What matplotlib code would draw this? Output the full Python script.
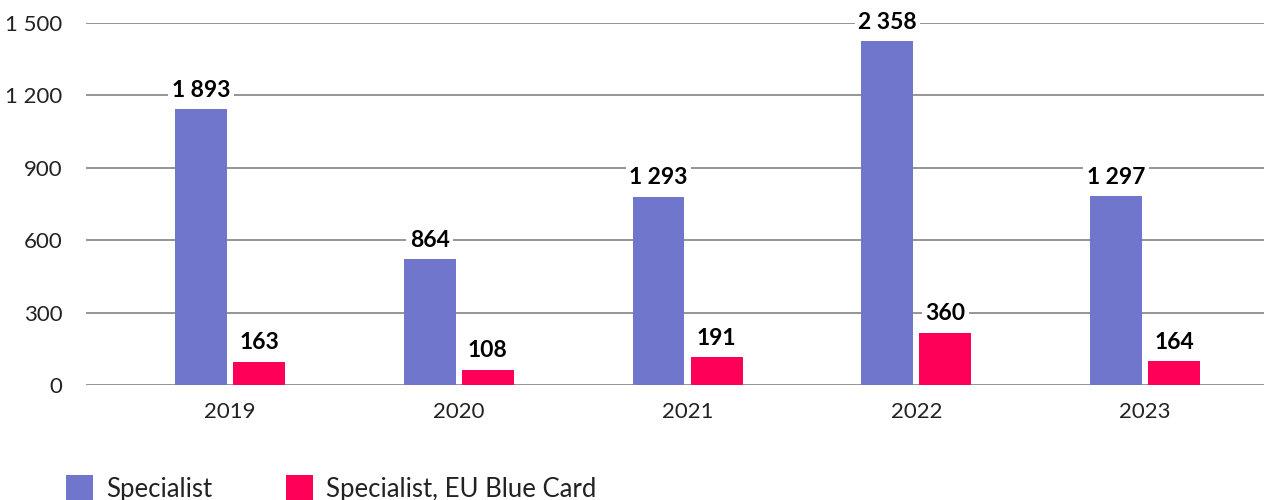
import matplotlib
matplotlib.use("Agg")
import matplotlib.pyplot as plt
from matplotlib.ticker import FuncFormatter
import numpy as np

years = ["2019", "2020", "2021", "2022", "2023"]
specialist = [1893, 864, 1293, 2358, 1297]
blue_card = [163, 108, 191, 360, 164]
tick_labels = [0, 300, 600, 900, 1200, 1500]
series_names = ["Specialist", "Specialist, EU Blue Card"]

# the source chart's axis labels don't match the bar scale, keep that look
axis_scale = 0.604

clr_spec = '#7076CC'
clr_card = '#FF0058'
clr_grid = '#8C8C8C'
font = 'Lato'

plt.rcParams['font.family'] = [font, 'DejaVu Sans']

fig = plt.figure(figsize=(12.64, 5), dpi=100)
ax = fig.add_axes([86/1264, 1 - 385.3/500, 1 - 86/1264, (385.3 - 23)/500])

x = np.arange(len(years))
w = 0.227
off = 0.127
b1 = ax.bar(x - off, specialist, w, color=clr_spec, zorder=3, label=series_names[0])
b2 = ax.bar(x + off, blue_card, w, color=clr_card, zorder=3, label=series_names[1])

def fmt(v):
	return "{:,}".format(int(round(v))).replace(",", " ")

for bars, vals in ((b1, specialist), (b2, blue_card)):
	for r, v in zip(bars, vals):
		ax.annotate(fmt(v), xy=(r.get_x() + r.get_width()/2, v), xytext=(0, 6),
			textcoords='offset points', ha='center', va='bottom',
			fontsize=16.5, fontweight='bold', color='black', zorder=4,
			bbox=dict(boxstyle='square,pad=0.15', fc='white', ec='none'))

ax.set_xlim(-0.63, 4.52)
ax.set_ylim(0, tick_labels[-1] / axis_scale)
ax.set_yticks([t / axis_scale for t in tick_labels])
ax.yaxis.set_major_formatter(FuncFormatter(lambda v, p: fmt(v * axis_scale)))
ax.set_xticks(x)
ax.set_xticklabels(years)

ax.grid(axis='y', color=clr_grid, linewidth=1.3, zorder=0)
ax.set_axisbelow(True)
for s in ax.spines.values():
	s.set_visible(False)
ax.tick_params(axis='both', length=0, labelsize=16, colors='#222222')
ax.tick_params(axis='y', pad=17)
ax.tick_params(axis='x', pad=12)

fig.legend(loc='upper left', bbox_to_anchor=(66/1264, 1 - 475/500), ncol=2,
	frameon=False, fontsize=18.5, handlelength=1.05, handleheight=1.2,
	handletextpad=0.5, columnspacing=2.9, borderpad=0, borderaxespad=0,
	labelcolor='#222222')

fig.savefig('out.png', dpi=100)
